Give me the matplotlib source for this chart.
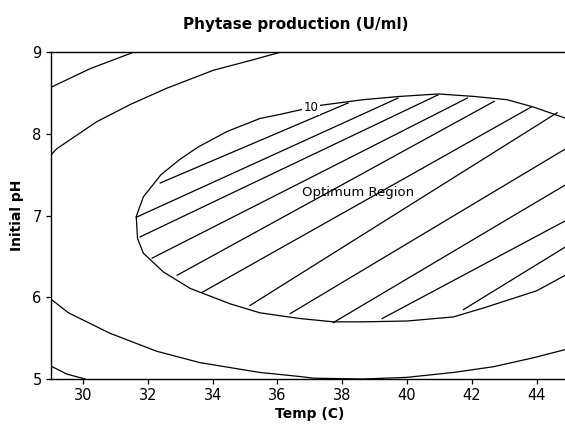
import numpy as np
import matplotlib
matplotlib.use("Agg")
import matplotlib.pyplot as plt
from matplotlib.patches import Polygon

plt.rcParams['font.family'] = ['DejaVu Sans']

# contour lines (temp, pH)
ellipse_t = [45.2, 44.88, 44.0, 42.36, 41.43, 40.0, 38.65, 37.73, 36.7, 35.46, 34.54,
             33.3, 32.48, 31.86, 31.68, 31.64, 31.86, 32.4, 32.99, 33.55, 34.44, 35.46,
             36.08, 37.31, 38.65, 39.78, 40.97, 42.05, 43.08, 43.9, 44.62, 45.2]
ellipse_ph = [6.4, 6.27, 6.08, 5.87, 5.76, 5.71, 5.70, 5.70, 5.74, 5.81, 5.92,
              6.11, 6.31, 6.54, 6.72, 6.99, 7.23, 7.5, 7.69, 7.84, 8.03, 8.19,
              8.24, 8.35, 8.42, 8.46, 8.49, 8.46, 8.42, 8.33, 8.23, 8.15]

curve_a_t = [29, 30.22, 31.55]
curve_a_ph = [8.57, 8.8, 9.0]
curve_b_t = [29, 29.19, 30.42, 31.45, 32.58, 34.02, 35.26, 36.08]
curve_b_ph = [7.74, 7.82, 8.15, 8.36, 8.56, 8.78, 8.91, 9.0]
curve_c_t = [29, 29.55, 30.83, 32.27, 33.61, 35.46, 36.7, 37.11, 38.65, 39.99,
             41.43, 42.66, 43.9, 44.88, 45.2]
curve_c_ph = [5.98, 5.81, 5.56, 5.34, 5.2, 5.08, 5.03, 5.01, 5.0, 5.02,
              5.08, 5.15, 5.26, 5.36, 5.4]
curve_d_t = [29, 29.5, 30.06]
curve_d_ph = [5.16, 5.06, 5.0]

# hatch lines of the optimum region (start and end, temp / pH)
hatch_t0 = [32.38, 31.64, 31.76, 32.13, 32.90, 33.67, 35.15, 36.39, 37.72, 39.23, 41.74]
hatch_ph0 = [7.40, 6.98, 6.74, 6.48, 6.27, 6.06, 5.90, 5.80, 5.69, 5.74, 5.85]
hatch_t1 = [38.18, 39.72, 40.96, 41.86, 42.69, 43.83, 44.63, 44.9, 44.9, 44.9, 44.9]
hatch_ph1 = [8.38, 8.44, 8.48, 8.44, 8.40, 8.33, 8.26, 7.82, 7.38, 6.94, 6.62]

fig = plt.figure(figsize=(5.65, 4.24), dpi=100)
ax = fig.add_axes([50.7 / 565, 1 - 379 / 424, 518.4 / 565, (379 - 52.3) / 424])

lw = 0.9
ax.plot(curve_a_t, curve_a_ph, color='black', lw=lw)
ax.plot(curve_b_t, curve_b_ph, color='black', lw=lw)
ax.plot(curve_c_t, curve_c_ph, color='black', lw=lw)
ax.plot(curve_d_t, curve_d_ph, color='black', lw=lw)

poly = Polygon(np.column_stack([ellipse_t, ellipse_ph]), closed=True,
               fill=False, edgecolor='black', lw=lw)
ax.add_patch(poly)

for t0, p0, t1, p1 in zip(hatch_t0, hatch_ph0, hatch_t1, hatch_ph1):
    ax.plot([t0, t1], [p0, p1], color='black', lw=lw)

ax.text(37.03, 8.327, '10', fontsize=8.5, ha='center', va='center',
        bbox=dict(facecolor='white', edgecolor='none', pad=1))
ax.text(38.5, 7.28, 'Optimum Region', fontsize=9.5, ha='center', va='center')

ax.set_xlim(29, 45)
ax.set_ylim(5, 9)
ax.set_xticks([30, 32, 34, 36, 38, 40, 42, 44])
ax.set_yticks([5, 6, 7, 8, 9])
ax.tick_params(labelsize=10.5, length=3.5, width=0.9, pad=3, colors='black')
ax.spines['right'].set_visible(False)
for s in ['left', 'bottom', 'top']:
    ax.spines[s].set_linewidth(1.0)

ax.set_xlabel('Temp (C)', fontsize=10, fontweight='bold', labelpad=3)
ax.set_ylabel('Initial pH', fontsize=10, fontweight='bold', labelpad=6)
fig.text(295.6 / 565, 1 - 25 / 424, 'Phytase production (U/ml)', fontsize=11,
         fontweight='bold', ha='center', va='center')

fig.savefig('out.png', dpi=100)
